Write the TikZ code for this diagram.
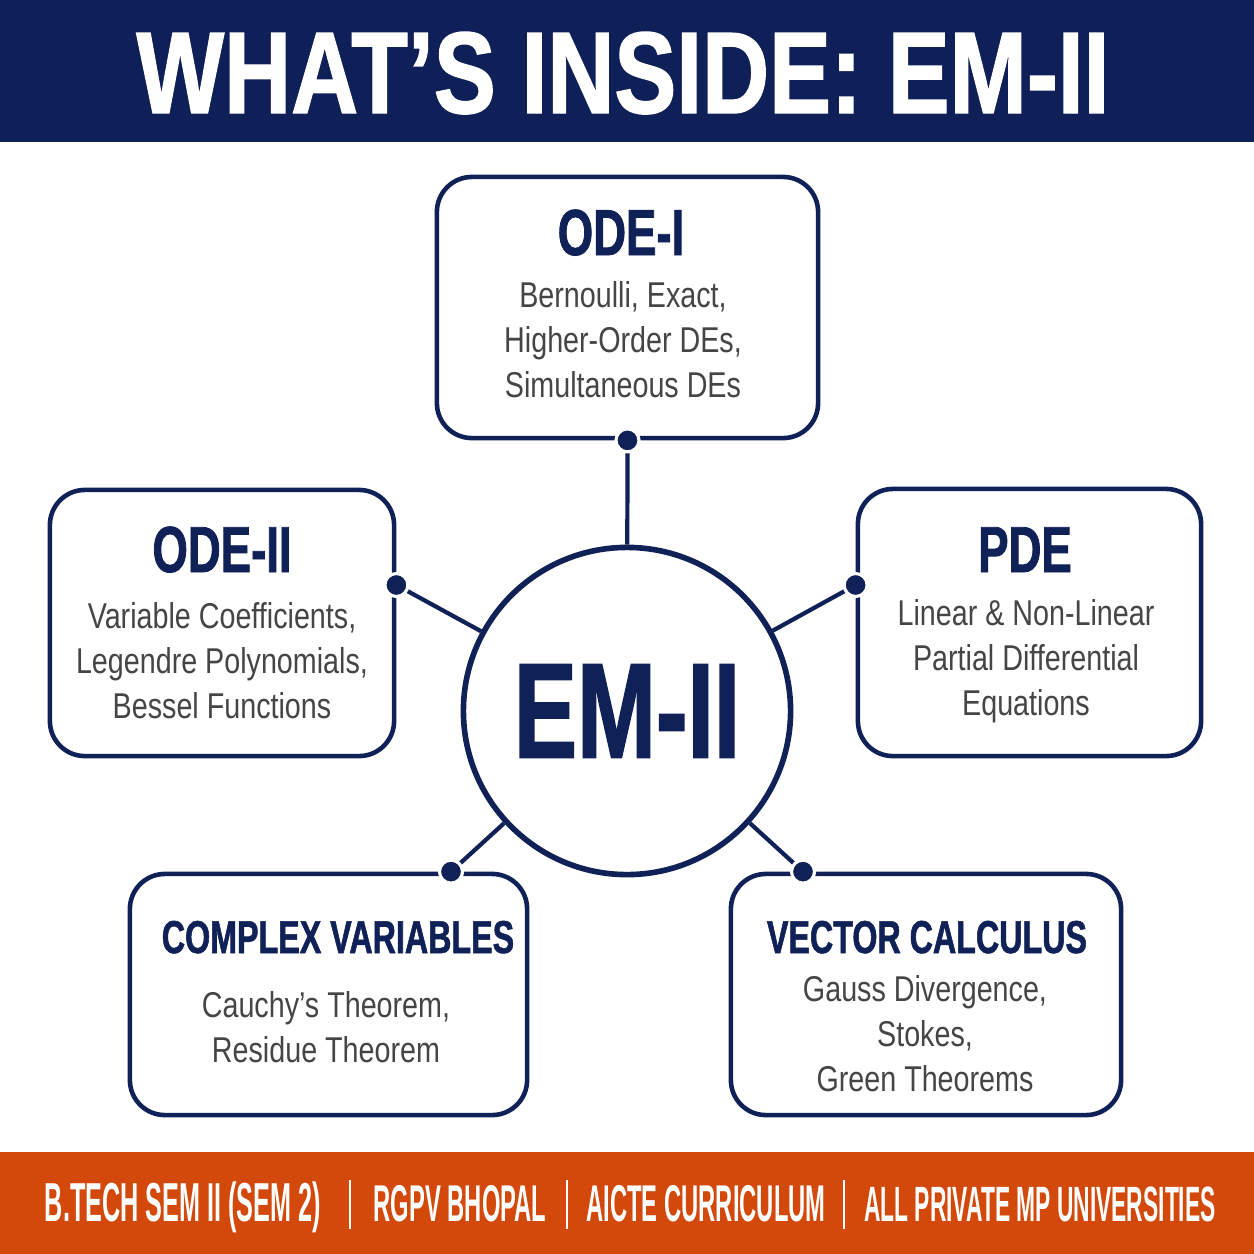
\documentclass[tikz,border=0pt]{standalone}
\usepackage{fontspec}
\setmainfont{Liberation Sans}
\newfontfamily\headfont[FakeStretch=0.80, FakeBold=1.2]{Liberation Sans Bold}
\newfontfamily\titlefont[FakeStretch=0.70, FakeBold=1.2]{Liberation Sans Bold}
\newfontfamily\footfont[FakeStretch=0.46]{Liberation Sans Bold}
\newfontfamily\bodyfont[FakeStretch=0.80]{Liberation Sans}
\usetikzlibrary{positioning,calc}

\definecolor{navy}{HTML}{102157}
\definecolor{bannerblue}{HTML}{0E2057}
\definecolor{rust}{HTML}{D2490B}
\definecolor{bodygray}{HTML}{454545}

\tikzset{
  panel/.style={rectangle, draw=navy, line width=1.3pt, rounded corners=0.35cm, fill=white, inner sep=0pt},
  hub/.style={circle, draw=navy, line width=1.6pt, minimum size=3.27cm, inner sep=0pt, fill=white, text=navy, font=\titlefont\fontsize{38.5}{40}\selectfont},
  paneltitle/.style={anchor=base, text=navy, inner sep=0pt, font=\titlefont\fontsize{18.5}{20}\selectfont},
  longtitle/.style={paneltitle, font=\titlefont\fontsize{13.1}{15}\selectfont},
  topics/.style={align=center, text=bodygray, inner sep=0pt, font=\bodyfont\fontsize{10.2}{12.8}\selectfont},
  link/.style={draw=navy, line width=1.2pt},
  knob/.style={circle, fill=navy, draw=white, line width=0.9pt, minimum size=0.23cm, inner sep=0pt},
  tagline/.style={anchor=base, text=white, inner sep=0pt, font=\footfont\fontsize{14.7}{16}\selectfont},
  divider/.style={draw=white, line width=0.6pt}
}

\begin{document}
\begin{tikzpicture}[x=0.01cm, y=-0.01cm]
\useasboundingbox (0,0) rectangle (1254,1254);
% banners
\fill[bannerblue] (0,0) rectangle (1254,142);
\fill[rust] (0,1152) rectangle (1254,1254);
\node[anchor=base, text=white, inner sep=0pt, font=\headfont\fontsize{33}{35}\selectfont] (head) at (623,113) {WHAT’S INSIDE: EM-II};

% topic panels
\node[panel, minimum width=3.81cm, minimum height=2.61cm] (odeI) at (627.5,307.5) {};
\node[panel, minimum width=3.44cm, minimum height=2.66cm] (odeII) at (222,623) {};
\node[panel, minimum width=3.43cm, minimum height=2.67cm] (pde) at (1029.5,622.5) {};
\node[panel, minimum width=3.97cm, minimum height=2.41cm] (cplx) at (328.5,994.5) {};
\node[panel, minimum width=3.90cm, minimum height=2.41cm] (vec) at (926,994.5) {};

\node[paneltitle] (odeItitle) at (621,255) {ODE-I};
\node[topics] (odeItext) at (623,340) {Bernoulli, Exact,\\Higher-Order DEs,\\Simultaneous DEs};
\node[paneltitle] (odeIItitle) at (222,572) {ODE-II};
\node[topics] (odeIItext) at (222,661) {Variable Coefficients,\\Legendre Polynomials,\\Bessel Functions};
\node[paneltitle] (pdetitle) at (1025,572) {PDE};
\node[topics] (pdetext) at (1026,661) {Linear \& Non-Linear\\Partial Differential\\Equations};
\node[longtitle] (cplxtitle) at (338,953) {COMPLEX VARIABLES};
\node[topics] (cplxtext) at (326,1027) {Cauchy’s Theorem,\\Residue Theorem};
\node[longtitle] (vectitle) at (927,953) {VECTOR CALCULUS};
\node[topics] (vectext) at (925,1034) {Gauss Divergence,\\Stokes,\\Green Theorems};

% centre
\node[hub] (em) at (627,711) {EM-II};

% connectors
\coordinate (d1) at (odeI.south);
\coordinate (d2) at (odeII.east |- 0,585);
\coordinate (d3) at (pde.west |- 0,585);
\coordinate (d4) at (cplx.north -| 451,0);
\coordinate (d5) at (vec.north -| 803,0);
\foreach \d in {d1,d2,d3,d4,d5} {
  \draw[link] (em) -- (\d);
  \node[knob] at (\d) {};
}

% footer
\node[tagline, font=\footfont\fontsize{15.6}{17}\selectfont] (sem) at (183,1221) {B.TECH SEM II (SEM 2)};
\node[tagline] (rgpv) at (460,1221) {RGPV BHOPAL};
\node[tagline] (aicte) at (706,1221) {AICTE CURRICULUM};
\node[tagline, font=\footfont\fontsize{14.1}{16}\selectfont] (univ) at (1040,1221) {ALL PRIVATE MP UNIVERSITIES};
\foreach \sx in {350,567,844}
  \draw[divider] (\sx,1180) -- (\sx,1229);
\end{tikzpicture}
\end{document}
